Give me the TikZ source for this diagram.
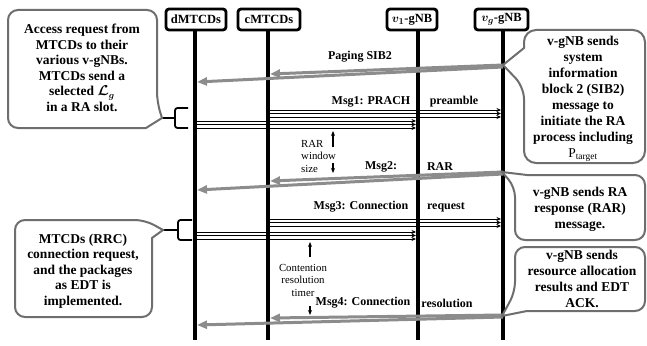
\documentclass[tikz,border=0pt]{standalone}
\usepackage{fontspec}
\setmainfont{Liberation Serif}
\usetikzlibrary{arrows.meta}
\definecolor{calloutgray}{RGB}{110,110,110}
\definecolor{arrowgray}{RGB}{140,140,140}

\tikzset{
  hdr/.style={draw=black, line width=2.8pt, rounded corners=3pt,
    font=\bfseries\fontsize{12.5}{14}\selectfont, minimum height=21pt, inner sep=2pt},
  life/.style={line width=3.5pt},
  callout/.style={draw=calloutgray, line width=2pt, fill=white},
  ctext/.style={font=\bfseries\fontsize{13.5}{15.5}\selectfont, align=center, inner sep=0pt},
  grayarrow/.style={draw=arrowgray, line width=3pt, -{Triangle[length=10pt,width=8pt]}},
  msgline/.style={line width=1pt, -{Stealth[length=4.5pt,width=4pt]}},
  mlabel/.style={font=\bfseries\fontsize{12}{14}\selectfont, inner sep=0pt},
  small/.style={font=\fontsize{10.8}{12.5}\selectfont, align=center, inner sep=0pt},
  brk/.style={line width=1.8pt, rounded corners=2.5pt},
  timer/.style={line width=1.2pt, -{Stealth[length=5pt,width=4pt]}},
}

\begin{document}
\begin{tikzpicture}[x=1pt,y=-1pt]
\useasboundingbox (0,0) rectangle (647,345);

% lifeline heads
\node[hdr, minimum width=60pt] (dH) at (196,19.5) {dMTCDs};
\node[hdr, minimum width=62pt] (cH) at (269,19.5) {cMTCDs};
\node[hdr, minimum width=50pt] (v1H) at (412,19.5) {{\boldmath$v_1$}-gNB};
\node[hdr, minimum width=53pt] (vgH) at (501.5,19.5) {{\boldmath$v_g$}-gNB};

% lifelines
\coordinate (dL) at (195,340);
\coordinate (cL) at (268,340);
\coordinate (v1L) at (418,340);
\coordinate (vgL) at (503,340);
\draw[life] (dH.south -| dL) -- (dL);
\draw[life] (cH.south -| cL) -- (cL);
\draw[life] (v1H.south -| v1L) -- (v1L);
\draw[life] (vgH.south -| vgL) -- (vgL);

% Msg1 bundles
\foreach \y in {110,113.5,117}
  \draw[msgline] ([xshift=2pt]cL |- 0,\y) -- ([xshift=-2pt]vgL |- 0,\y);
\foreach \y in {121,124.5,128}
  \draw[msgline] ([xshift=2pt]dL |- 0,\y) -- ([xshift=-2pt]v1L |- 0,\y);

% Msg3 bundles
\foreach \y in {219,222.5,226}
  \draw[msgline] ([xshift=2pt]cL |- 0,\y) -- ([xshift=-2pt]vgL |- 0,\y);
\foreach \y in {232,235.5,239}
  \draw[msgline] ([xshift=2pt]dL |- 0,\y) -- ([xshift=-2pt]v1L |- 0,\y);

% downlink messages
\draw[grayarrow] (vgL |- 0,65) -- ([xshift=2pt]cL |- 0,74);
\draw[grayarrow] (vgL |- 0,67) -- ([xshift=2pt]dL |- 0,82);
\draw[grayarrow] (vgL |- 0,172) -- ([xshift=2pt]cL |- 0,181);
\draw[grayarrow] (vgL |- 0,174) -- ([xshift=2pt]dL |- 0,190);
\draw[grayarrow] (vgL |- 0,315) -- ([xshift=2pt]cL |- 0,318);
\draw[grayarrow] (vgL |- 0,317) -- ([xshift=2pt]dL |- 0,325);

% message labels
\node[mlabel] (lpage) at (360,57) {Paging SIB2};
\node[mlabel] (lm1) at (371,102) {Msg1: PRACH};
\node[mlabel] (lpre) at (454,102) {preamble};
\node[mlabel] (lm2) at (381,167) {Msg2:};
\node[mlabel] (lrar) at (440,167) {RAR};
\node[mlabel] (lm3) at (361,207) {Msg3: Connection};
\node[mlabel] (lreq) at (446,207) {request};
\node[mlabel] (lm4) at (363,303) {Msg4: Connection};
\node[mlabel] (lres) at (447,303) {resolution};

% timers
\node[small, align=left, anchor=west] (lwin) at (301,156) {RAR\\window\\size};
\coordinate (w1a) at (333,147); \coordinate (w1b) at (333,131);
\coordinate (w2a) at (333,163); \coordinate (w2b) at (333,173);
\draw[timer] (w1a) -- (w1b);
\draw[timer] (w2a) -- (w2b);
\node[small] (lcont) at (303,280) {Contention\\resolution\\timer};
\coordinate (c1a) at (310,257); \coordinate (c1b) at (310,242);
\coordinate (c2a) at (310,306); \coordinate (c2b) at (310,315);
\draw[timer] (c1a) -- (c1b);
\draw[timer] (c2a) -- (c2b);

% brackets grouping the uplink bundles
\draw[brk] (188,108) -- (175,108) -- (175,128) -- (188,128);
\draw[brk] (162,118) -- (175,118);
\draw[brk] (192,220) -- (178,220) -- (178,240) -- (192,240);
\draw[brk] (163,230) -- (178,230);

% callouts
\draw[callout] (82,10) [rounded corners=10pt] -- (157,10) -- (157,102)
  [sharp corners] -- (162,118) -- (146,128) [rounded corners=10pt] -- (8,128) -- (8,10) -- cycle;
\node[ctext] (t1) at (82,68) {Access request from\\MTCDs to their\\various v-gNBs.\\MTCDs send a\\selected {\boldmath$\mathcal{L}_g$}\\in a RA slot.};

\draw[callout] (83,220) [rounded corners=10pt] -- (145,220)
  [sharp corners] -- (163,230) -- (152,238) [rounded corners=10pt] -- (152,317) -- (15,317) -- (15,220) -- cycle;
\node[ctext] (t2) at (83,271) {MTCDs (RRC)\\connection request,\\and the packages\\as EDT is\\implemented.};

\draw[callout] (585,30) [rounded corners=12pt] -- (645,30) -- (645,163) -- (524,163) -- (524,87)
  [sharp corners] -- (503,65) -- (524,48) [rounded corners=12pt] -- (524,30) -- cycle;
\node[ctext, font=\bfseries\fontsize{13.5}{16}\selectfont] (t3) at (583,99)
  {v-gNB sends\\system\\information\\block 2 (SIB2)\\message to\\initiate the RA\\process including\\{\mdseries P\textsubscript{target}}};

\draw[callout] (580,175) [rounded corners=10pt] -- (645,175) -- (645,240) -- (515,240) -- (515,187)
  [sharp corners] -- (502,172) -- (527,175) [rounded corners=10pt] -- cycle;
\node[ctext, font=\bfseries\fontsize{13.5}{16}\selectfont] (t4) at (580,209) {v-gNB sends RA\\response (RAR)\\message.};

\draw[callout] (580,247) [rounded corners=10pt] -- (515,247) -- (515,292)
  [sharp corners] -- (502,316) -- (527,311) [rounded corners=10pt] -- (645,311) -- (645,247) -- cycle;
\node[ctext, font=\bfseries\fontsize{13.5}{16}\selectfont] (t5) at (582,279) {v-gNB sends\\resource allocation\\results and EDT\\ACK.};

\end{tikzpicture}
\end{document}
